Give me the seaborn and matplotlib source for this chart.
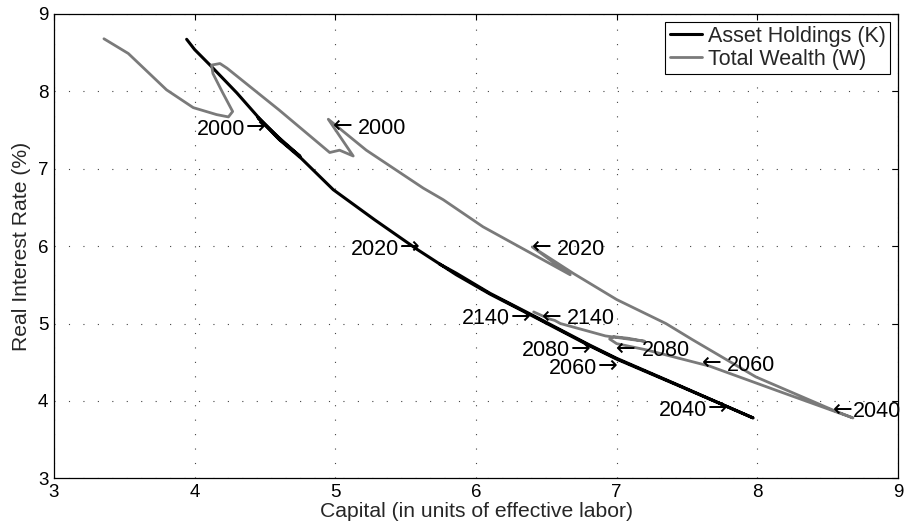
import matplotlib
matplotlib.use("Agg")
import matplotlib.pyplot as plt
import seaborn as sns
import pandas as pd

# Asset Holdings (K) path: capital vs real interest rate
k_x = [3.943, 4.00, 4.12, 4.30, 4.46, 4.61, 4.75, 4.60, 4.45, 4.60, 4.76, 4.985, 5.28, 5.58,
       5.86, 6.10, 6.41, 6.81, 7.00, 7.45, 7.97, 7.45, 7.00, 6.81, 6.41, 6.10, 5.86, 5.74]
k_y = [8.673, 8.54, 8.32, 7.98, 7.65, 7.37, 7.16, 7.40, 7.66, 7.38, 7.13, 6.73, 6.34, 5.96,
       5.63, 5.38, 5.09, 4.71, 4.54, 4.19, 3.78, 4.195, 4.55, 4.72, 5.10, 5.39, 5.65, 5.77]

# Total Wealth (W) path
w_x = [3.355, 3.528, 3.80, 3.99, 4.156, 4.24, 4.27, 4.20, 4.13, 4.12, 4.18, 4.23, 4.60, 4.96,
       5.03, 5.127, 4.95, 5.22, 5.625, 5.767, 6.05, 6.67, 6.40, 6.69, 7.00, 7.35, 7.54, 7.99,
       8.54, 8.68, 8.16, 7.66, 7.21, 7.00, 6.95, 6.98, 7.08, 7.20, 6.92, 6.60, 6.56, 6.52, 6.41]
w_y = [8.68, 8.49, 8.02, 7.79, 7.70, 7.67, 7.74, 7.98, 8.23, 8.34, 8.36, 8.30, 7.76, 7.21,
       7.24, 7.165, 7.64, 7.24, 6.75, 6.60, 6.25, 5.63, 5.99, 5.65, 5.31, 5.00, 4.79, 4.31,
       3.88, 3.78, 4.12, 4.45, 4.66, 4.74, 4.80, 4.83, 4.81, 4.77, 4.84, 5.00, 5.04, 5.06, 5.15]

# Year annotations: text, arrow tip position, side of the text relative to the tip
ann_text = ["2000", "2000", "2020", "2020", "2140", "2140", "2080", "2080",
            "2060", "2060", "2040", "2040"]
ann_x = [4.50, 4.985, 5.59, 6.40, 6.38, 6.47, 6.81, 7.00, 7.00, 7.61, 7.78, 8.54]
ann_y = [7.54, 7.55, 5.99, 5.99, 5.09, 5.09, 4.68, 4.68, 4.45, 4.49, 3.91, 3.89]
ann_side = ["left", "right", "left", "right", "left", "right", "left", "right",
            "left", "right", "left", "right"]
ann_space = [False, True, False, True, False, True, False, True, False, True, False, False]

x_ticks = [3, 4, 5, 6, 7, 8, 9]
y_ticks = [3, 4, 5, 6, 7, 8, 9]

sns.set_theme(style="white")
plt.rcParams['font.family'] = ['Liberation Sans', 'DejaVu Sans']

fig = plt.figure(figsize=(9.08, 5.30), dpi=100)
ax = fig.add_axes([54 / 908, 51.7 / 530, 844 / 908, 464.3 / 530])

df_k = pd.DataFrame({"x": k_x, "y": k_y})
df_w = pd.DataFrame({"x": w_x, "y": w_y})
sns.lineplot(data=df_k, x="x", y="y", sort=False, estimator=None, color="black",
             lw=2.2, ax=ax, label="Asset Holdings (K)")
sns.lineplot(data=df_w, x="x", y="y", sort=False, estimator=None, color="#7a7a7a",
             lw=2.0, ax=ax, label="Total Wealth (W)")

ax.set_xlim(3, 9)
ax.set_ylim(3, 9)
ax.set_xticks(x_ticks)
ax.set_yticks(y_ticks)
ax.set_xticklabels([str(t) for t in x_ticks])
ax.set_yticklabels([str(t) for t in y_ticks])
ax.grid(True, color="#444444", linestyle=(0, (1, 12)), lw=0.8)
for s in ax.spines.values():
    s.set_color("black")
    s.set_linewidth(0.9)
    s.set_visible(True)
ax.tick_params(axis="both", direction="in", length=4, width=0.8, top=True, right=True,
               labelsize=13.5, colors="black")
ax.tick_params(axis="x", pad=4)
ax.tick_params(axis="y", pad=4)
ax.set_xlabel("Capital (in units of effective labor)", fontsize=15.2, labelpad=1)
ax.set_ylabel("Real Interest Rate (%)", fontsize=15.2, labelpad=5)

fs = 15.5   # digits
fa = 17.0   # arrow glyph
arrow_w = 0.80 * fa
for t, x, y, side, sp in zip(ann_text, ann_x, ann_y, ann_side, ann_space):
    if side == "left":
        ax.annotate("\u2192", xy=(x, y), xytext=(0.5, -0.30 * fa), textcoords="offset points",
                    ha="right", va="baseline", fontsize=fa, family="DejaVu Sans",
                    color="black")
        ax.annotate(t, xy=(x, y), xytext=(-arrow_w - 0.5, -0.355 * fs),
                    textcoords="offset points", ha="right", va="baseline",
                    fontsize=fs, color="black")
    else:
        ax.annotate("\u2190", xy=(x, y), xytext=(-0.5, -0.30 * fa), textcoords="offset points",
                    ha="left", va="baseline", fontsize=fa, family="DejaVu Sans",
                    color="black")
        gap = 0.278 * fs if sp else 0.5
        ax.annotate(t, xy=(x, y), xytext=(arrow_w + gap, -0.355 * fs),
                    textcoords="offset points", ha="left", va="baseline",
                    fontsize=fs, color="black")

leg = ax.legend(loc="upper right", fontsize=15.5, frameon=True, fancybox=False,
                edgecolor="black", framealpha=1, borderaxespad=0.35, handlelength=1.5,
                handletextpad=0.3, borderpad=0.2, labelspacing=0.1)
leg.get_frame().set_linewidth(0.8)

fig.savefig("out.png", dpi=100)
